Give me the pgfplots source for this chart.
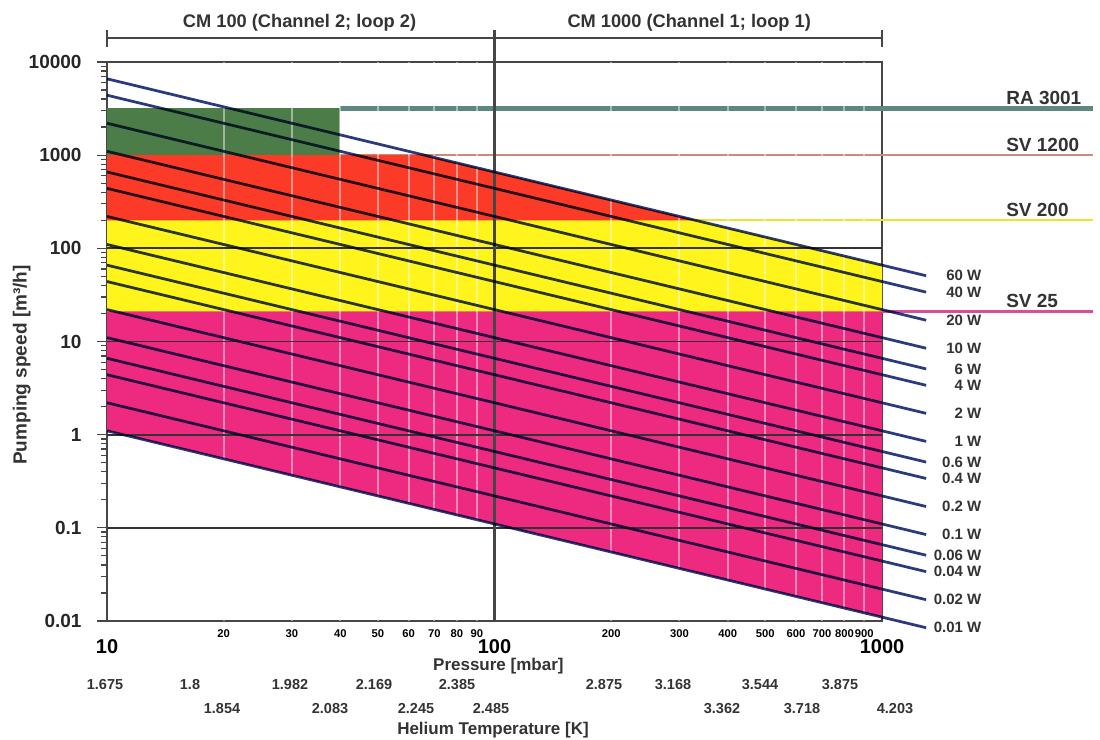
\documentclass[border=0pt]{standalone}
\usepackage{pgfplots}
\pgfplotsset{compat=1.18}
\usepackage{fontspec}
\setmainfont{Liberation Sans}
\definecolor{linec}{RGB}{42,58,128}
\definecolor{greenf}{RGB}{76,124,72}
\definecolor{redf}{RGB}{252,58,40}
\definecolor{yellowf}{RGB}{255,244,28}
\definecolor{pinkf}{RGB}{238,42,128}
\definecolor{ralc}{RGB}{95,135,130}
\definecolor{sv1200c}{RGB}{200,140,125}
\definecolor{sv200c}{RGB}{240,228,40}
\definecolor{sv25c}{RGB}{215,80,150}
\definecolor{axc}{RGB}{70,70,70}
\begin{document}
\begin{tikzpicture}
\useasboundingbox (-42.8pt,-47.6pt) rectangle (397.2pt,248.4pt);
\begin{loglogaxis}[
  at={(0,0)}, anchor=south west,
  scale only axis, width=310pt, height=223.6pt,
  xmin=10, xmax=1000, ymin=0.01, ymax=10000,
  clip=false,
  axis line style={draw=axc, line width=0.9pt},
  tick align=outside,
  xtick={20,30,40,50,60,70,80,90,200,300,400,500,600,700,800,900},
  xticklabels={20,30,40,50,60,70,80,90,200,300,400,500,600,700,800,900},
  xticklabel style={font=\fontsize{4.5}{5}\selectfont\bfseries, inner sep=0pt, yshift=0.6pt},
  xtick style={draw=none},
  xminorticks=false,
  extra x ticks={10,100,1000},
  extra x tick labels={10,100,1000},
  extra x tick style={tick style={draw=none}, xticklabel style={font=\fontsize{8}{9}\selectfont\bfseries, yshift=-3.7pt}},
  ytick={0.01,0.1,1,10,100,1000,10000},
  yticklabels={0.01,0.1,1,10,100,1000,10000},
  yticklabel style={font=\fontsize{7.6}{8}\selectfont\bfseries, inner sep=0pt, xshift=-6pt, text=black!85},
  ytick pos=left,
  ytick style={draw=axc, line width=0.5pt},
  major tick length=4pt, minor tick length=2.5pt,
  xlabel={Pressure [mbar]},
  xlabel style={font=\fontsize{6.8}{8}\selectfont\bfseries, text=black!80, at={(axis description cs:0.505,-0.0800)}, anchor=center},
  ylabel={Pumping speed [m³/h]},
  ylabel style={font=\fontsize{7.6}{8}\selectfont\bfseries, text=black!80, at={(axis description cs:-0.110,0.458)}, anchor=center},
]
% reference pump lines
\addplot[ralc, line width=2pt] coordinates {(40,3200) (3500,3200)};
\addplot[sv1200c, line width=0.9pt] coordinates {(10,1000) (3500,1000)};
\addplot[sv200c, line width=0.9pt] coordinates {(10,200) (3500,200)};
\addplot[sv25c, line width=0.9pt] coordinates {(10,21) (3500,21)};
% regions
\addplot[draw=none, fill=pinkf] coordinates {(10,1.1) (10,21) (1000,21) (1000,0.011)} -- cycle;
\addplot[draw=none, fill=yellowf] coordinates {(10,21) (10,200) (330,200) (1000,66) (1000,21)} -- cycle;
\addplot[draw=none, fill=redf] coordinates {(10,200) (10,1000) (66,1000) (330,200)} -- cycle;
\addplot[draw=none, fill=greenf] coordinates {(10,1000) (10,3200) (40,3200) (40,1000)} -- cycle;
% grid
\pgfplotsinvokeforeach{20,30,40,50,60,70,80,90,200,300,400,500,600,700,800,900}{
  \draw[white, opacity=0.45, line width=0.8pt] (axis cs:#1,0.01) -- (axis cs:#1,10000);
}
\pgfplotsinvokeforeach{0.1,1,10,100}{
  \draw[black!80, line width=0.7pt] (axis cs:10,#1) -- (axis cs:1000,#1);
}
\draw[axc, line width=0.9pt] (axis cs:100,0.01) -- ([yshift=12.8pt]axis cs:100,10000);
% heat load lines
\pgfplotsset{every axis plot/.append style={}}
\addplot[linec, line width=1.1pt, blend mode=multiply] coordinates {(10,6600) (1300,50.77)};
\addplot[linec, line width=1.1pt, blend mode=multiply] coordinates {(10,4400) (1300,33.85)};
\addplot[linec, line width=1.1pt, blend mode=multiply] coordinates {(10,2200) (1300,16.92)};
\addplot[linec, line width=1.1pt, blend mode=multiply] coordinates {(10,1100) (1300,8.462)};
\addplot[linec, line width=1.1pt, blend mode=multiply] coordinates {(10,660) (1300,5.077)};
\addplot[linec, line width=1.1pt, blend mode=multiply] coordinates {(10,440) (1300,3.385)};
\addplot[linec, line width=1.1pt, blend mode=multiply] coordinates {(10,220) (1300,1.692)};
\addplot[linec, line width=1.1pt, blend mode=multiply] coordinates {(10,110) (1300,0.8462)};
\addplot[linec, line width=1.1pt, blend mode=multiply] coordinates {(10,66) (1300,0.5077)};
\addplot[linec, line width=1.1pt, blend mode=multiply] coordinates {(10,44) (1300,0.3385)};
\addplot[linec, line width=1.1pt, blend mode=multiply] coordinates {(10,22) (1300,0.1692)};
\addplot[linec, line width=1.1pt, blend mode=multiply] coordinates {(10,11) (1300,0.08462)};
\addplot[linec, line width=1.1pt, blend mode=multiply] coordinates {(10,6.6) (1300,0.05077)};
\addplot[linec, line width=1.1pt, blend mode=multiply] coordinates {(10,4.4) (1300,0.03385)};
\addplot[linec, line width=1.1pt, blend mode=multiply] coordinates {(10,2.2) (1300,0.01692)};
\addplot[linec, line width=1.1pt, blend mode=multiply] coordinates {(10,1.1) (1300,0.008462)};
% line labels
\begin{scope}[every node/.style={anchor=east, inner sep=0pt, font=\fontsize{6}{7}\selectfont\bfseries, text=black!80}]
\node at (axis cs:1810,50.77) {60 W};
\node at (axis cs:1810,33.85) {40 W};
\node at (axis cs:1810,16.92) {20 W};
\node at (axis cs:1810,8.462) {10 W};
\node at (axis cs:1810,5.077) {6 W};
\node at (axis cs:1810,3.385) {4 W};
\node at (axis cs:1810,1.692) {2 W};
\node at (axis cs:1810,0.8462) {1 W};
\node at (axis cs:1810,0.5077) {0.6 W};
\node at (axis cs:1810,0.3385) {0.4 W};
\node at (axis cs:1810,0.1692) {0.2 W};
\node at (axis cs:1810,0.08462) {0.1 W};
\node at (axis cs:1810,0.05077) {0.06 W};
\node at (axis cs:1810,0.03385) {0.04 W};
\node at (axis cs:1810,0.01692) {0.02 W};
\node at (axis cs:1810,0.008462) {0.01 W};
\end{scope}
\begin{scope}[every node/.style={anchor=base west, inner sep=0pt, font=\fontsize{7.6}{8}\selectfont\bfseries, text=black!80}]
\node at ([yshift=1.6pt]axis cs:2087,3200) {RA 3001};
\node at ([yshift=1.6pt]axis cs:2087,1000) {SV 1200};
\node at ([yshift=1.6pt]axis cs:2087,200) {SV 200};
\node at ([yshift=1.6pt]axis cs:2087,21) {SV 25};
\end{scope}
% top bracket
\draw[axc, line width=0.9pt] ([yshift=9.6pt]axis cs:10,10000) -- ([yshift=9.6pt]axis cs:1000,10000);
\pgfplotsinvokeforeach{10,100,1000}{
  \draw[axc, line width=0.9pt] ([yshift=6pt]axis cs:#1,10000) -- ([yshift=12.8pt]axis cs:#1,10000);
}
\node[font=\fontsize{7.3}{8}\selectfont\bfseries, text=black!80] at ([yshift=15.6pt]axis cs:31.4,10000) {CM 100 (Channel 2; loop 2)};
\node[font=\fontsize{7.3}{8}\selectfont\bfseries, text=black!80] at ([yshift=15.6pt]axis cs:318,10000) {CM 1000 (Channel 1; loop 1)};
\end{loglogaxis}
% helium temperature scale (pixel coordinates of the reference)
\begin{scope}[x=0.4pt, y=-0.4pt, shift={(-42.8pt,248.4pt)}, every node/.style={inner sep=0pt, font=\fontsize{5.8}{7}\selectfont\bfseries, text=black!80}]
\node at (105,685) {1.675};
\node at (190,685) {1.8};
\node at (290,685) {1.982};
\node at (374,685) {2.169};
\node at (457,685) {2.385};
\node at (604,685) {2.875};
\node at (673,685) {3.168};
\node at (760,685) {3.544};
\node at (840,685) {3.875};
\node at (222,709) {1.854};
\node at (330,709) {2.083};
\node at (416,709) {2.245};
\node at (491,709) {2.485};
\node at (722,709) {3.362};
\node at (802,709) {3.718};
\node at (895,709) {4.203};
\node[font=\fontsize{6.8}{8}\selectfont\bfseries] at (493,730) {Helium Temperature [K]};
\end{scope}
\end{tikzpicture}
\end{document}
